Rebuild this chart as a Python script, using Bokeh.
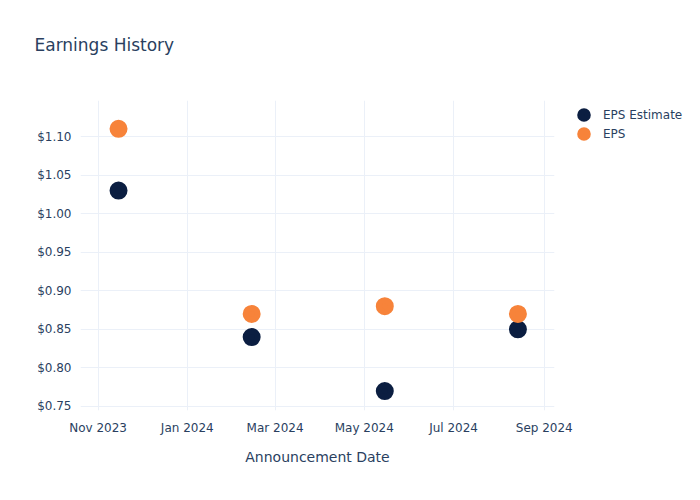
from datetime import datetime
from bokeh.plotting import figure
from bokeh.models import (Range1d, NumeralTickFormatter, DatetimeTickFormatter,
                          MonthsTicker, Legend, LegendItem, ColumnDataSource, Title)
from bokeh.embed import file_html
from bokeh.resources import INLINE

dates = ["2023-11-15", "2024-02-14", "2024-05-15", "2024-08-14"]
eps_estimate = [1.03, 0.84, 0.77, 0.85]
eps_actual = [1.11, 0.87, 0.88, 0.87]
series_names = ["EPS Estimate", "EPS"]
chart_title = "Earnings History"

FONT = "DejaVu Sans"
TXT = "#2a3f5f"
GRID = "#EBF0F8"
NAVY = "#0b1e41"
ORANGE = "#f7833a"

x_dates = [datetime.strptime(d, "%Y-%m-%d") for d in dates]
src = ColumnDataSource(dict(date=x_dates, est=eps_estimate, eps=eps_actual))

p = figure(width=700, height=500, output_backend="svg", toolbar_location=None,
           title=None,
           x_axis_type="datetime",
           x_range=Range1d(datetime(2023, 10, 20), datetime(2024, 9, 8)),
           y_range=Range1d(0.7448, 1.1467),
           min_border_left=80, min_border_right=146, min_border_top=100,
           min_border_bottom=90)
p.frame_width = 474
p.frame_height = 310
p.outline_line_color = None
p.background_fill_color = "white"
p.border_fill_color = "white"

spacer = Title(text=" ", text_font_size="10px", standoff=28)
p.add_layout(spacer, "above")
main_title = Title(text=chart_title, text_font=FONT, text_font_size="17px",
                   text_font_style="normal", text_color=TXT, offset=-46,
                   standoff=10, align="left")
p.add_layout(main_title, "above")

r1 = p.scatter("date", "est", source=src, size=12, color=NAVY, line_width=6)
r2 = p.scatter("date", "eps", source=src, size=12, color=ORANGE, line_width=6)

p.xaxis.ticker = MonthsTicker(months=[0, 2, 4, 6, 8, 10])
p.xaxis.formatter = DatetimeTickFormatter(months="%b %Y", days="%b %Y", years="%Y")
p.yaxis.formatter = NumeralTickFormatter(format="$0.00")
p.yaxis.ticker.desired_num_ticks = 9

for ax in (p.xaxis[0], p.yaxis[0]):
    ax.axis_line_color = None
    ax.major_tick_line_color = None
    ax.minor_tick_line_color = None
    ax.major_label_text_font = FONT
    ax.major_label_text_font_size = "12px"
    ax.major_label_text_color = TXT
p.yaxis.major_label_standoff = 3
p.xaxis.major_label_standoff = 4
p.xaxis.axis_label = "Announcement Date"
p.xaxis.axis_label_text_font = FONT
p.xaxis.axis_label_text_font_size = "14px"
p.xaxis.axis_label_text_font_style = "normal"
p.xaxis.axis_label_text_color = TXT
p.xaxis.axis_label_standoff = 11

p.xgrid.grid_line_color = GRID
p.ygrid.grid_line_color = GRID

legend = Legend(items=[LegendItem(label=series_names[0], renderers=[r1]),
                       LegendItem(label=series_names[1], renderers=[r2])],
                location=(20, 267))
legend.label_text_font = FONT
legend.label_text_font_size = "12px"
legend.label_text_color = TXT
legend.border_line_color = None
legend.background_fill_alpha = 0
legend.spacing = 0
legend.padding = 0
legend.margin = 0
legend.glyph_width = 19
legend.glyph_height = 19
legend.label_standoff = 10
p.add_layout(legend, "right")

open("out.html", "w").write(file_html(p, INLINE))
